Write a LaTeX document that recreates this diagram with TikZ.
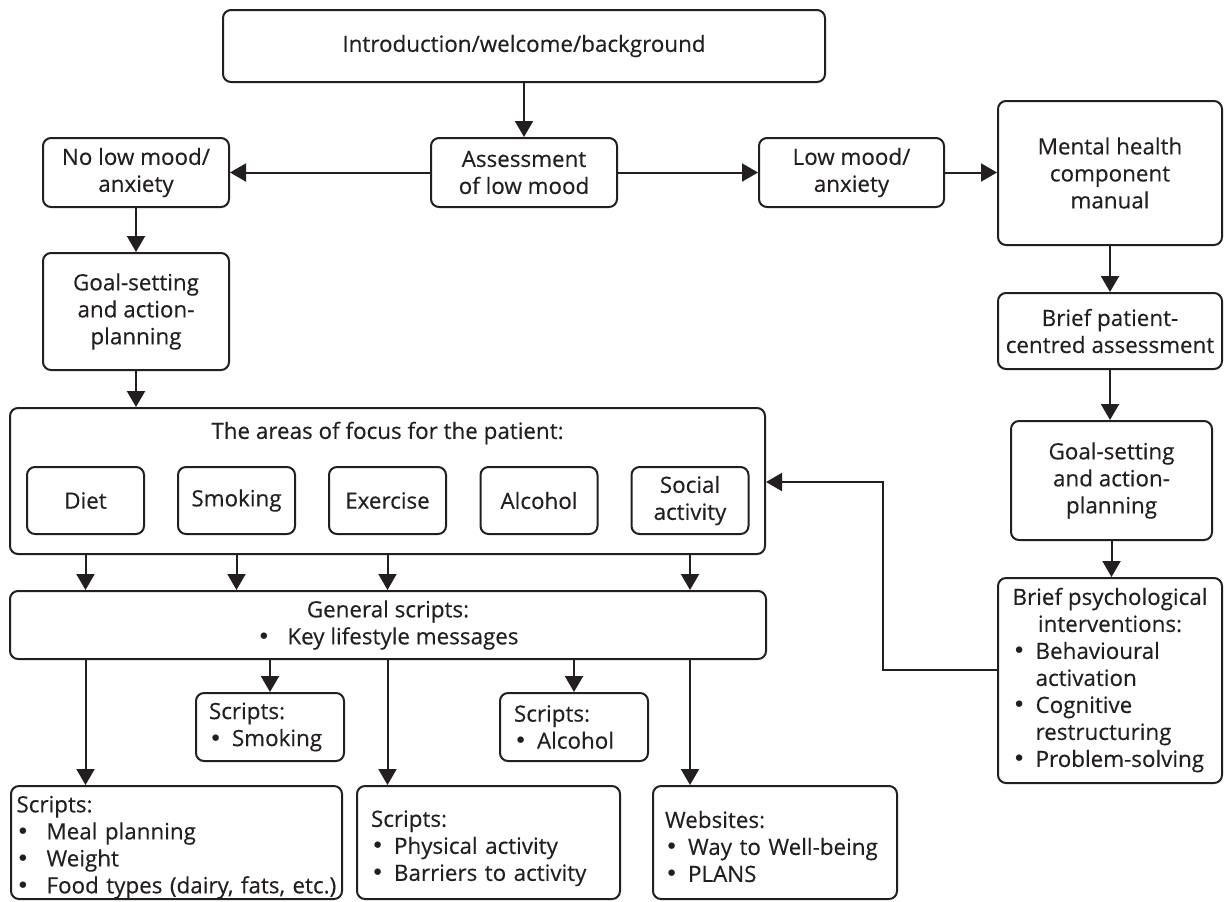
\documentclass[tikz,border=0pt]{standalone}
\usepackage{fontspec}
\setmainfont[FakeBold=0.35]{Open Sans}
\newfontfamily\bulfont{DejaVu Sans}
\usetikzlibrary{arrows.meta}
\definecolor{ink}{HTML}{231F20}
% list bullet: the DejaVu bullet is a little larger than the text font's
\newcommand\bul{{\bulfont •}}
\newcommand\itm{\makebox[11.5pt][l]{\bul}}
\newcommand\itmwide{\makebox[15pt][l]{\bul}}
\newcommand\itmgap{\hspace*{11.5pt}}

\begin{document}
\begin{tikzpicture}[x=0.5pt,y=-0.5pt,
  every node/.style={font=\fontsize{11.2}{13.5}\selectfont, text=ink},
  box/.style={draw=ink, line width=1pt, rounded corners=4pt, inner sep=0pt, align=center},
  leftbox/.style={box, align=left},
  arr/.style={draw=ink, line width=1pt, -{Triangle[length=8pt,width=9pt]}},
]
\useasboundingbox (0,0) rectangle (1224,901);

% top row
\node[box, minimum width=301pt, minimum height=36pt] (intro) at (524,46) {Introduction/welcome/background};
\node[box, minimum width=93pt, minimum height=34.5pt] (assess) at (524,172.5) {Assessment\\of low mood};
\node[box, minimum width=93pt, minimum height=34.5pt] (nolow) at (136,172.5) {No low mood/\\anxiety};
\node[box, minimum width=92.5pt, minimum height=34.5pt] (lowmood) at (851.5,172.5) {Low mood/\\anxiety};
\node[box, minimum width=112pt, minimum height=72pt] (mh) at (1110,173) {Mental health\\component\\manual};

% mental health column
\node[box, minimum width=112pt, minimum height=38pt] (brief) at (1110,331) {Brief patient-\\centred assessment};
\node[box, minimum width=100.5pt, minimum height=59.5pt] (goalR) at (1111.5,480.5) {Goal-setting\\and action-\\planning};
\node[box, minimum width=112pt, minimum height=102.5pt] (psych) at (1110,680.5)
  {\begin{tabular}{@{}l@{}}
   \multicolumn{1}{@{}c@{}}{Brief psychological}\\
   \multicolumn{1}{@{}c@{}}{interventions:}\\
   \itm Behavioural\\
   \itmgap activation\\
   \itm Cognitive\\
   \itmgap restructuring\\
   \itm Problem-solving
   \end{tabular}};

% lifestyle column
\node[box, minimum width=93pt, minimum height=58.5pt] (goalL) at (136,311.5) {Goal-setting\\and action-\\planning};
\node[box, minimum width=377.5pt, minimum height=73pt] (focus) at (387.5,481) {};
\node (focustitle) at (387.5,433) {The areas of focus for the patient:};
\node[box, minimum width=58.5pt, minimum height=33.5pt] (diet) at (85.5,500.5) {Diet};
\node[box, minimum width=58.5pt, minimum height=33.5pt] (smoking) at (236.5,500.5) {Smoking};
\node[box, minimum width=58.5pt, minimum height=33.5pt] (exercise) at (387.5,500.5) {Exercise};
\node[box, minimum width=58.5pt, minimum height=33.5pt] (alcohol) at (539,500.5) {Alcohol};
\node[box, minimum width=58.5pt, minimum height=33.5pt] (social) at (690,500.5) {Social\\activity};

\node[box, minimum width=378pt, minimum height=34pt] (general) at (388,625)
  {General scripts:\\\itmwide Key lifestyle messages};

\node[leftbox, minimum height=34pt, text width=61pt, inner xsep=6.5pt] (smokeS) at (270,727)
  {Scripts:\\\itm Smoking};
\node[leftbox, minimum height=34pt, text width=60pt, inner xsep=7pt] (alcS) at (574,727)
  {Scripts:\\\itm Alcohol};

\node[leftbox, minimum height=56.5pt, text width=160pt, inner xsep=2.75pt] (meal) at (176.5,842.5)
  {\rule{0pt}{13pt}Scripts:\\\itmwide Meal planning\\\itmwide Weight\\\itmwide Food types (dairy, fats, etc.)};
\node[leftbox, minimum height=56.5pt, text width=117.5pt, inner xsep=7pt] (phys) at (488.5,842.5)
  {\rule{0pt}{14pt}Scripts:\\\itm Physical activity\\\itm Barriers to activity};
\node[leftbox, minimum height=56.5pt, text width=110pt, inner xsep=6pt] (web) at (775,842.5)
  {\rule{0pt}{12.5pt}Websites:\\\itm Way to Well-being\\\itm PLANS};

% connectors: assessment branch
\draw[arr] (intro.south) -- (assess.north);
\draw[arr] (assess.west) -- (nolow.east);
\draw[arr] (assess.east) -- (lowmood.west);
\draw[arr] (lowmood.east) -- (lowmood.east -| mh.west);
\draw[arr] (nolow.south) -- (goalL.north);
\draw[arr] (goalL.south) -- (goalL.south |- focus.north);

% connectors: mental health column
\draw[arr] (mh.south) -- (brief.north);
\draw[arr] (brief.south) -- (brief.south |- goalR.north);
\draw[arr] (goalR.south) -- (goalR.south |- psych.north);

% feedback from interventions to the areas of focus
\coordinate (fbturn) at (883,670);
\coordinate (fbtop) at (883,482);
\draw[arr] (fbturn -| psych.west) -- (fbturn) -- (fbtop) -- (fbtop -| focus.east);

% areas of focus to general scripts
\draw[arr] (diet |- focus.south) -- (diet |- general.north);
\draw[arr] (smoking |- focus.south) -- (smoking |- general.north);
\draw[arr] (exercise |- focus.south) -- (exercise |- general.north);
\draw[arr] (social |- focus.south) -- (social |- general.north);

% general scripts to specific scripts
\draw[arr] (diet |- general.south) -- (diet |- meal.north);
\draw[arr] (smokeS |- general.south) -- (smokeS.north);
\draw[arr] (exercise |- general.south) -- (exercise |- phys.north);
\draw[arr] (alcS |- general.south) -- (alcS.north);
\draw[arr] (social |- general.south) -- (social |- web.north);
\end{tikzpicture}
\end{document}
